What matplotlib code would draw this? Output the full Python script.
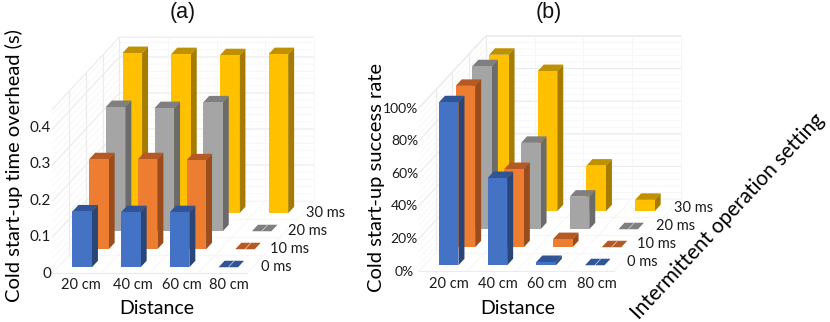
#!/usr/bin/env python3
"""Two Excel style pseudo-3D column charts, drawn with an oblique projection."""

import matplotlib
matplotlib.use("Agg")
import matplotlib.pyplot as plt
from matplotlib.patches import Polygon

distances = ["20 cm", "40 cm", "60 cm", "80 cm"]
settings = ["0 ms", "10 ms", "20 ms", "30 ms"]

# rows follow settings, columns follow distances
overhead_0 = [0.155, 0.153, 0.153, 0.0]
overhead_10 = [0.25, 0.25, 0.247, 0.0]
overhead_20 = [0.345, 0.342, 0.358, 0.0]
overhead_30 = [0.445, 0.442, 0.439, 0.442]

success_0 = [100, 53.5, 2, 0]
success_10 = [99, 48, 5, 0]
success_20 = [100, 53, 20, 0]
success_30 = [96, 86, 28, 7]

overhead_ticks = [0, 0.1, 0.2, 0.3, 0.4]
overhead_tick_labels = ["0", "0.1", "0.2", "0.3", "0.4"]
success_ticks = [0, 20, 40, 60, 80, 100]
success_tick_labels = ["0%", "20%", "40%", "60%", "80%", "100%"]

FACE = ["#4472C4", "#ED7D31", "#A5A5A5", "#FFC000"]
TOP = ["#2F5597", "#B55A24", "#7F7F7F", "#BF9000"]
SIDE = ["#2A4678", "#9A4C1D", "#6B6B6B", "#A67C00"]

CAT_W = 48.7
DEPTH_X, DEPTH_Y = 16.7, 18.0
BAR_W = 19.5
BAR_DX, BAR_DY = 6.0, 6.5
GRID = "#ebebeb"
MINOR = "#f6f6f6"
LABEL_FONT = ["Lato", "DejaVu Sans"]


def floor_pt(ox, oy, cat, ser):
    return ox + cat * CAT_W + ser * DEPTH_X, oy - ser * DEPTH_Y


def panel(ax, ox, oy, scale, top, rows, ticks, minor_step):
    n_cat, n_ser = len(distances), len(settings)

    # minor + major lines on back and side wall
    def wall_line(v, color, lw):
        h = v * scale
        bx, by = floor_pt(ox, oy, 0, n_ser)
        rx, _ = floor_pt(ox, oy, n_cat, n_ser)
        ax.plot([ox, bx, rx], [oy - h, by - h, by - h], color=color, lw=lw, zorder=1)

    v = 0
    while v <= top + 1e-9:
        wall_line(v, MINOR, 0.6)
        v += minor_step
    for t in ticks[1:]:
        wall_line(t, GRID, 0.8)
    wall_line(top, GRID, 0.8)

    h = top * scale
    for c in range(1, n_cat + 1):
        x, y = floor_pt(ox, oy, c, n_ser)
        ax.plot([x, x], [y, y - h], color=MINOR, lw=0.7, zorder=1)
    for s in range(1, n_ser + 1):
        x, y = floor_pt(ox, oy, 0, s)
        ax.plot([x, x], [y, y - h], color=GRID, lw=0.8, zorder=1)

    # floor
    for c in range(n_cat + 1):
        x0, y0 = floor_pt(ox, oy, c, 0)
        x1, y1 = floor_pt(ox, oy, c, n_ser)
        ax.plot([x0, x1], [y0, y1], color=MINOR, lw=0.7, zorder=1)
    for s in range(n_ser + 1):
        x0, y0 = floor_pt(ox, oy, 0, s)
        x1, y1 = floor_pt(ox, oy, n_cat, s)
        ax.plot([x0, x1], [y0, y1], color=GRID if s == 0 else MINOR, lw=0.8, zorder=1)

    # columns, back row first
    z = 2
    for s in reversed(range(n_ser)):
        for c in range(n_cat):
            x, y = floor_pt(ox, oy, c, s)
            x += (DEPTH_X - BAR_DX) / 2 + (CAT_W - BAR_W) / 2
            y -= (DEPTH_Y - BAR_DY) / 2
            x2 = x + BAR_W
            ytop = y - rows[s][c] * scale
            ax.add_patch(Polygon([(x, ytop), (x2, ytop), (x2 + BAR_DX, ytop - BAR_DY),
                                  (x + BAR_DX, ytop - BAR_DY)],
                                 fc=TOP[s], ec="none", zorder=z))
            if rows[s][c] > 0:
                ax.add_patch(Polygon([(x2, y), (x2, ytop), (x2 + BAR_DX, ytop - BAR_DY),
                                      (x2 + BAR_DX, y - BAR_DY)],
                                     fc=SIDE[s], ec="none", zorder=z))
                ax.add_patch(Polygon([(x, y), (x2, y), (x2, ytop), (x, ytop)],
                                     fc=FACE[s], ec="none", zorder=z))
            else:
                ax.plot([x + BAR_W / 2, x + BAR_W / 2 + BAR_DX], [y, y - BAR_DY],
                        color="#d8d8d8", lw=0.5, zorder=z)
            z += 1


fig = plt.figure(figsize=(8.3, 3.22), dpi=100)
ax = fig.add_axes([0, 0, 1, 1])
ax.set_xlim(0, 830)
ax.set_ylim(322, 0)
ax.axis("off")

overhead_rows = [overhead_0, overhead_10, overhead_20, overhead_30]
success_rows = [success_0, success_10, success_20, success_30]

panel(ax, 52.5, 273, 360, 0.455, overhead_rows, overhead_ticks, 0.02)
panel(ax, 419, 271, 1.63, 100, success_rows, success_ticks, 4)


def text(x, y, s, size=10.5, **kw):
    kw.setdefault("ha", "center")
    kw.setdefault("va", "center")
    kw.setdefault("color", "#1c1c1c")
    ax.text(x, y, s, fontsize=size, family=LABEL_FONT, zorder=100, **kw)


# (a) labels
ax.text(183, 12, "(a)", fontsize=15.5, family="Liberation Sans", ha="center", va="center", color="#111111")
text(14, 166, "Cold start-up time overhead (s)", size=14.5, rotation=90, color="#000000")
text(157, 309, "Distance", size=14, color="#000000")
for t, lab in zip(overhead_ticks, overhead_tick_labels):
    text(51, 274 - t * 366, lab, size=11, ha="right")
for x, lab in zip([81, 133, 182, 229], distances):
    text(x, 285, lab)
for i, lab in enumerate(settings):
    text(292 + 17.6 * i, 267 - 18 * i, lab, ha="right")

# (b) labels
ax.text(549, 12, "(b)", fontsize=15.5, family="Liberation Sans", ha="center", va="center", color="#111111")
text(376, 177, "Cold start-up success rate", size=14.5, rotation=90, color="#000000")
text(518, 309, "Distance", size=14, color="#000000")
for t, lab in zip(success_ticks, success_tick_labels):
    text(418 if t else 414, 271.5 - t * 1.63, lab, size=10, ha="right")
for x, lab in zip([449, 498, 547, 597], distances):
    text(x, 284, lab)
for i, lab in enumerate(settings):
    text(658 + 18.5 * i, 262 - 18 * i, lab, ha="right")
text(728, 216, "Intermittent operation setting", size=15, rotation=47,
     rotation_mode="anchor", color="#000000")

fig.savefig("out.png", dpi=100)
